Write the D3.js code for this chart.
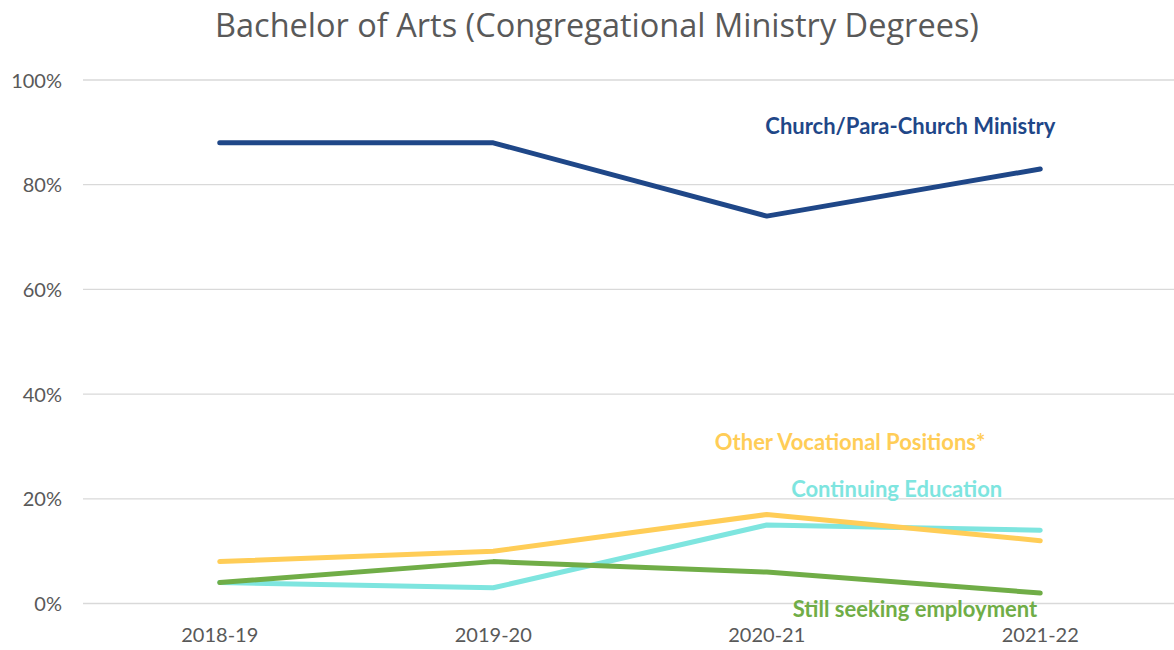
<!DOCTYPE html>
<html>
<head>
<meta charset="utf-8">
<script src="https://cdn.jsdelivr.net/npm/d3@7"></script>
<style>
  body { margin: 0; background: #fff; }
  svg { display: block; font-family: Lato, "Open Sans", sans-serif; }
  .title { fill: #595959; font-size: 32.5px; font-family: "Open Sans", sans-serif; }
  .axis text { fill: #595959; font-size: 20px; font-family: Lato, sans-serif; }
  .seriesLabel { font-weight: bold; font-size: 22px; }
</style>
</head>
<body>
<div id="chart"></div>
<script>
var years = ['2018-19', '2019-20', '2020-21', '2021-22'];
var church = [88, 88, 74, 83];
var otherVocational = [8, 10, 17, 12];
var continuingEd = [4, 3, 15, 14];
var stillSeeking = [4, 8, 6, 2];
var yTicks = [0, 20, 40, 60, 80, 100];

var width = 1174;
var height = 650;
var margin = { top: 80, right: -3, bottom: 46.5, left: 83 };

var series = [
    { name: 'Church/Para-Church Ministry', values: church, colour: '#1f4788', labelVal: 89.7, dx: 15 },
    { name: 'Other Vocational Positions*', values: otherVocational, colour: '#ffcd57', labelVal: 29.3, dx: -55 },
    { name: 'Continuing Education', values: continuingEd, colour: '#7ee5df', labelVal: 20.4, dx: -38 },
    { name: 'Still seeking employment', values: stillSeeking, colour: '#70ad47', labelVal: -2.6, dx: -3 }
];
// draw order like the original
var drawOrder = [series[0], series[2], series[1], series[3]];

var svg = d3.select('#chart').append('svg').attr('width', width).attr('height', height);

var x = d3.scaleBand().domain(years).range([margin.left, width - margin.right]);
var y = d3.scaleLinear().domain([0, 100]).range([height - margin.bottom, margin.top]);

svg.append('text').attr('class', 'title').attr('x', 597).attr('y', 37).style('text-anchor', 'middle')
    .text('Bachelor of Arts (Congregational Ministry Degrees)');

// gridlines
svg.append('g').selectAll('line').data(yTicks).enter().append('line')
    .attr('x1', margin.left).attr('x2', width - margin.right)
    .attr('y1', d => y(d)).attr('y2', d => y(d))
    .style('stroke', '#d9d9d9').style('stroke-width', 1.3);

var yAxis = d3.axisLeft(y).tickValues(yTicks).tickSize(0).tickPadding(21).tickFormat(d => d + '%');
svg.append('g').attr('class', 'axis').attr('transform', `translate(${margin.left}, 0)`).call(yAxis)
    .call(g => g.select('.domain').remove())
    .selectAll('text').attr('dy', '0.35em');

var xAxis = d3.axisBottom(x).tickSize(0).tickPadding(24);
svg.append('g').attr('class', 'axis').attr('transform', `translate(0, ${height - margin.bottom})`).call(xAxis)
    .call(g => g.select('.domain').remove());

var line = d3.line().x((d, i) => x(years[i]) + x.bandwidth() / 2).y(d => y(d));

svg.selectAll('path.series').data(drawOrder).enter().append('path').attr('class', 'series')
    .attr('d', d => line(d.values))
    .style('fill', 'none').style('stroke', d => d.colour).style('stroke-width', 5)
    .style('stroke-linecap', 'round').style('stroke-linejoin', 'round');

var lastYear = years[years.length - 1];
svg.selectAll('text.seriesLabel').data(series).enter().append('text').attr('class', 'seriesLabel')
    .attr('x', d => x(lastYear) + x.bandwidth() / 2 + d.dx)
    .attr('y', d => y(d.labelVal))
    .style('text-anchor', 'end').style('fill', d => d.colour)
    .text(d => d.name);
</script>
</body>
</html>
